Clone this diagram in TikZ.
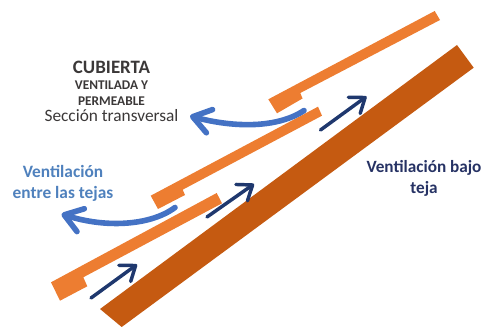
\documentclass[tikz,border=0pt]{standalone}
\usepackage{fontspec}
\setmainfont{Carlito}
\usetikzlibrary{arrows.meta,positioning}
\definecolor{teja}{RGB}{237,125,49}
\definecolor{rastrel}{RGB}{197,90,17}
\definecolor{aireazul}{RGB}{68,114,196}
\definecolor{airebajo}{RGB}{31,56,110}
\definecolor{textoazul}{RGB}{79,129,189}
\definecolor{textobajo}{RGB}{38,50,100}
\definecolor{textogris}{RGB}{59,56,56}
\tikzset{
  flujoentre/.style={aireazul, line width=4.2pt, line cap=round, -{Straight Barb[length=13pt,width=18pt,round]}},
  flujobajo/.style={airebajo, line width=2.6pt, line cap=round, -{Straight Barb[length=10pt,width=15pt,round]}},
  rotulo/.style={align=center, inner sep=0pt},
}
\begin{document}
\begin{tikzpicture}[x=0.75pt,y=-0.75pt]
\useasboundingbox (0,0) rectangle (484,327);
% rafter below the tiles
\fill[rastrel] (457,45) -- (473.7,67.7) -- (121.7,327) -- (100,309) -- cycle;
% three tiles, each with its step on the lower end
\fill[teja] (434.7,11) -- (440,20) -- (300.3,93) -- (302.5,98.5) -- (277,113.3) -- (268.3,99.3) -- cycle;
\fill[teja] (318,106.7) -- (322,115.7) -- (182.7,189.7) -- (185,195) -- (158,209) -- (150.7,195.7) -- cycle;
\fill[teja] (216.7,193) -- (222,203.3) -- (83.3,277.3) -- (87.3,286.3) -- (60,300.7) -- (51,282.3) -- cycle;

% air leaving between the tiles
\coordinate (salidaA) at (304,110.5);
\coordinate (puntaA) at (190,116);
\coordinate (salidaB) at (175,207.5);
\coordinate (puntaB) at (61.5,214);
\draw[flujoentre] (salidaA) .. controls (278,128) and (235,128) .. (puntaA);
\draw[flujoentre] (salidaB) .. controls (150,226) and (105,228) .. (puntaB);

% air under the tiles
\foreach \nom/\xa/\ya/\xb/\yb in {a/91/298/137/264.5, b/207/217/254/184, c/320.5/130/366.5/96.5} {
  \coordinate (ini\nom) at (\xa,\ya);
  \coordinate (fin\nom) at (\xb,\yb);
  \draw[flujobajo] (ini\nom) -- (fin\nom);
}

% labels
\node[rotulo, textogris] (titulo) at (111.5,91.5) {\fontsize{14.2}{17.6}\selectfont\textbf{CUBIERTA}\\\textbf{VENTILADA Y}\\\textbf{PERMEABLE}\\\fontsize{13}{17.6}\selectfont Sección transversal};
\node[rotulo, textoazul, font=\fontsize{13}{15.8}\selectfont\bfseries] (entre) at (63,183) {Ventilación\\entre las tejas};
\node[rotulo, textobajo, font=\fontsize{12.9}{15.8}\selectfont\bfseries] (bajo) at (424,178.5) {Ventilación bajo\\teja};
\end{tikzpicture}
\end{document}
